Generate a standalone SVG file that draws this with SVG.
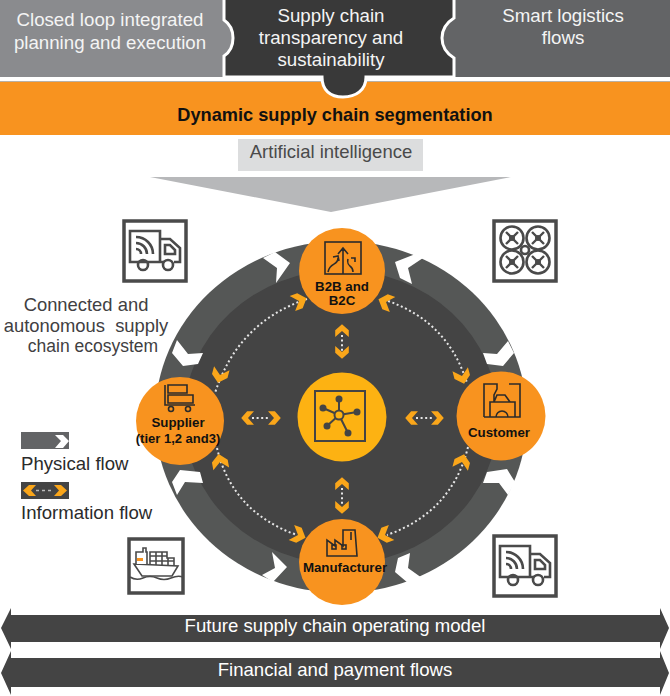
<svg xmlns="http://www.w3.org/2000/svg" xmlns:xlink="http://www.w3.org/1999/xlink" width="670" height="696" viewBox="0 0 670 696">
<style>
text{font-family:"Liberation Sans",Arial,sans-serif}
.w{fill:#fff;font-size:18.6px;text-anchor:middle}
.top{fill:#f4f4f4;font-size:18.7px;text-anchor:middle}
.g{fill:#414042;font-size:18.4px;text-anchor:middle}
.lg{fill:#2b2b2b;font-size:18.6px}
.n{fill:#111;font-size:13.3px;font-weight:bold;text-anchor:middle}
.dot{fill:none;stroke:#e6e6e6;stroke-width:2;stroke-dasharray:2 2.6}
.ch{fill:#FAA61A}
.wc{fill:#fff}
.ib{fill:#fff;stroke:#4a4a4a;stroke-width:3.5}
.il{fill:none;stroke:#4a4a4a;stroke-width:2.6}
.nl{fill:none;stroke:#2b2b2b;stroke-width:1.6}
</style>
<defs>
<path id="c" d="M-7,-8H1L8,0L1,8H-7L0,0Z"/>
<g id="truck">
<path class="il" d="M37,42H7V11H37V42M37,19H47L57,28V42H51M37,42H41"/>
<path class="il" d="M42,25H47L52,30V34H42Z"/>
<circle class="il" cx="20" cy="45" r="5"/>
<circle class="il" cx="45" cy="45" r="5"/>
<path class="il" d="M13,17A17,17 0 0 1 30,34M13,23A11,11 0 0 1 24,34M13,29A5,5 0 0 1 18,34"/>
</g>
</defs>
<rect width="670" height="696" fill="#fff"/>

<g id="block-planning">
<rect x="0" y="0" width="240" height="77" fill="#8a8b8e"/>
<text class="top" x="110" y="26">Closed loop integrated</text>
<text class="top" x="110" y="49">planning and execution</text>
</g>
<g id="block-logistics">
<rect x="435" y="0" width="235" height="77" fill="#636466"/>
<text class="top" x="563" y="22">Smart logistics</text>
<text class="top" x="563" y="44">flows</text>
</g>
<g id="band">
<rect x="0" y="77" width="670" height="5" fill="#fff"/>
<rect x="0" y="81" width="670" height="54" fill="#F8931F"/>
<rect x="0" y="81" width="670" height="1" fill="#b9b0a4"/>
<text x="335" y="121" font-size="18.2" font-weight="bold" fill="#111" text-anchor="middle">Dynamic supply chain segmentation</text>
</g>
<g id="block-transparency">
<path d="M224,-3V20C236,28 236,48 224,56V77H322C322,90 330,97 343,97C356,97 366,90 366,77H454V58C438,48 438,28 454,18V-3Z" fill="#393939" stroke="#fff" stroke-width="3"/>
<text class="top" x="331" y="22">Supply chain</text>
<text class="top" x="331" y="44">transparency and</text>
<text class="top" x="331" y="66">sustainability</text>
</g>
<g id="ai">
<rect x="238" y="139" width="185" height="32" fill="#dcddde"/>
<text x="331" y="158" font-size="18.5" fill="#4a4a4a" text-anchor="middle">Artificial intelligence</text>
<polygon points="150,177 511,177 331,212" fill="#b7b8ba"/>
</g>

<g id="ring">
<ellipse cx="341" cy="417" rx="186" ry="176" fill="#555756"/>
<ellipse cx="341" cy="417" rx="157" ry="147" fill="#444444"/>
<polygon class="wc" points="263,258 275,252 290,263 276,283 277,268"/>
<polygon class="wc" points="177,340 172,353 183,366 198,364 203,353 188,354"/>
<polygon class="wc" points="395,262 418,253 423,258 408,268 412,284 400,278"/>
<polygon class="wc" points="483,353 497,354 508,341 514,353 503,366 487,364"/>
<polygon class="wc" points="398,558 410,553 408,568 422,578 408,583 395,572"/>
<polygon class="wc" points="487,472 507,469 515,482 508,495 499,483 483,483"/>
<polygon class="wc" points="272,552 287,567 273,582 262,575 275,568"/>
<polygon class="wc" points="180,470 200,472 203,483 185,482 177,495 172,482"/>
</g>

<g id="connectors">
<path class="dot" d="M307,299Q238,322 215,393"/>
<path class="dot" d="M388,301Q448,322 467,383"/>
<path class="dot" d="M217,448Q232,512 297,535"/>
<path class="dot" d="M468,447Q452,512 387,535"/>
<path class="dot" d="M252,418H270"/>
<path class="dot" d="M416,418H434"/>
<path class="dot" d="M342,335V352"/>
<path class="dot" d="M342,488V505"/>
<use href="#c" class="ch" transform="translate(299,301) rotate(-20)"/>
<use href="#c" class="ch" transform="translate(220,375) rotate(105)"/>
<use href="#c" class="ch" transform="translate(386,302) rotate(200)"/>
<use href="#c" class="ch" transform="translate(462,376) rotate(75)"/>
<use href="#c" class="ch" transform="translate(220,462) rotate(-100)"/>
<use href="#c" class="ch" transform="translate(298,535) rotate(20)"/>
<use href="#c" class="ch" transform="translate(462,462) rotate(-75)"/>
<use href="#c" class="ch" transform="translate(385,535) rotate(160)"/>
<use href="#c" class="ch" transform="translate(248,418) rotate(180) scale(.85)"/>
<use href="#c" class="ch" transform="translate(274,418) scale(.85)"/>
<use href="#c" class="ch" transform="translate(412,418) rotate(180) scale(.85)"/>
<use href="#c" class="ch" transform="translate(437,418) scale(.85)"/>
<use href="#c" class="ch" transform="translate(342,331) rotate(-90) scale(.85)"/>
<use href="#c" class="ch" transform="translate(342,352) rotate(90) scale(.85)"/>
<use href="#c" class="ch" transform="translate(342,484) rotate(-90) scale(.85)"/>
<use href="#c" class="ch" transform="translate(342,507) rotate(90) scale(.85)"/>
</g>

<g id="node-b2b">
<circle cx="342" cy="271" r="43" fill="#F8931F"/>
<rect x="325" y="242" width="36" height="32" class="nl"/>
<path class="nl" d="M343,274V249M338,254L343,248L348,254M328,272C330,262 338,266 338,258M333,257L338,256L339,261M353,272C353,264 346,268 348,259M351,258H355V262"/>
<text class="n" x="342" y="291">B2B and</text>
<text class="n" x="342" y="305">B2C</text>
</g>
<g id="node-supplier">
<circle cx="180" cy="421" r="44" fill="#F8931F"/>
<path class="nl" d="M168,385H187V393H168ZM168,395H193V403H168ZM165,385V405H195"/>
<circle class="nl" cx="171" cy="409" r="2.5"/>
<circle class="nl" cx="188" cy="409" r="2.5"/>
<text class="n" x="178" y="427">Supplier</text>
<text class="n" x="178" y="443" style="font-size:13px">(tier 1,2 and3)</text>
</g>
<g id="node-customer">
<circle cx="501" cy="416" r="44.5" fill="#F8931F"/>
<path class="nl" d="M484,417V384H497V389L494,395V402M509,384H520V417H484M494,402L497,395H505L510,402M490,417V402H515V417M496,417A6,6 0 0 1 508,417"/>
<text class="n" x="499" y="437">Customer</text>
</g>
<g id="node-manufacturer">
<circle cx="342" cy="562" r="43" fill="#F8931F"/>
<path class="nl" d="M327,556V540L335,546V540L343,546V530H347L349,530H355L357,556ZM351,532V540"/>
<rect class="nl" x="332" y="545" width="4" height="4"/>
<rect class="nl" x="342" y="545" width="4" height="4"/>
<text class="n" x="345" y="572">Manufacturer</text>
</g>
<g id="node-hub">
<circle cx="342" cy="417" r="44.5" fill="#FDB212"/>
<rect x="315" y="391" width="50" height="50" fill="none" stroke="#444" stroke-width="2"/>
<path d="M339,415V399M339,415L323,408M339,415L357,412M339,415L327,426M339,415L348,433" stroke="#444" stroke-width="2"/>
<g fill="#444"><circle cx="339" cy="399" r="3.5"/><circle cx="323" cy="408" r="3.5"/><circle cx="357" cy="412" r="3.5"/><circle cx="327" cy="426" r="3.5"/><circle cx="348" cy="433" r="3.5"/></g>
<circle cx="339" cy="415" r="4.5" fill="#FDB212" stroke="#444" stroke-width="2"/>
</g>

<g id="icon-truck-top">
<rect class="ib" x="124" y="221" width="62" height="60"/>
<use href="#truck" transform="translate(123,220)"/>
</g>
<g id="icon-drone">
<rect class="ib" x="494" y="221" width="62" height="60"/>
<g class="il"><circle cx="512" cy="238" r="11.5"/><circle cx="538" cy="238" r="11.5"/><circle cx="512" cy="262" r="11.5"/><circle cx="538" cy="262" r="11.5"/><circle cx="525" cy="250" r="4"/></g>
<path d="M506,232L518,244M518,232L506,244M532,232L544,244M544,232L532,244M506,256L518,268M518,256L506,268M532,256L544,268M544,256L532,268" stroke="#4a4a4a" stroke-width="2.4"/>
<g fill="#4a4a4a"><circle cx="512" cy="238" r="3"/><circle cx="538" cy="238" r="3"/><circle cx="512" cy="262" r="3"/><circle cx="538" cy="262" r="3"/></g>
</g>
<g id="icon-ship">
<rect class="ib" x="129" y="539" width="54" height="54" stroke-width="3"/>
<path d="M134,564L178,566L172,576H142Z" fill="#fff" stroke="#4a4a4a" stroke-width="1.6"/>
<path d="M136,564V552H143V548H146V552H147V564" fill="#fff" stroke="#4a4a4a" stroke-width="1.6"/>
<rect x="137" y="558" width="6" height="3" fill="#F8931F"/>
<path d="M150,565V552H167V558H174V565M150,556H167M150,561H174M156,552V565M162,552V565M168,558V565" fill="none" stroke="#4a4a4a" stroke-width="1.6"/>
<path d="M130,577Q136,581 143,578T157,578T171,578T183,577" fill="none" stroke="#4a4a4a" stroke-width="1.6"/>
</g>
<g id="icon-truck-bottom">
<rect class="ib" x="494" y="536" width="62" height="60"/>
<use href="#truck" transform="translate(493,535)"/>
</g>

<g id="caption">
<text class="g" x="86" y="311">Connected and</text>
<text class="g" x="86" y="332" xml:space="preserve">autonomous  supply</text>
<text class="g" x="93" y="352" style="font-size:17.5px">chain ecosystem</text>
</g>
<g id="legend">
<rect x="21" y="432" width="48" height="17" fill="#636466"/>
<polygon class="wc" points="55,435 63,435 69,441 63,448 55,448 61,441"/>
<text class="lg" x="21" y="470">Physical flow</text>
<rect x="21" y="482" width="48" height="17" fill="#444"/>
<polygon class="ch" points="23,490.500 29,485 36,485 31,490.500 36,496 29,496"/>
<polygon class="ch" points="67,490.500 61,485 54,485 59,490.500 54,496 61,496"/>
<path d="M36,490.500H54" stroke="#bbb" stroke-width="1.500" stroke-dasharray="3 3"/>
<text class="lg" x="21" y="519">Information flow</text>
</g>
<g id="bar-operating">
<polygon points="1,628 11,608 11,615 660,615 660,608 669,628 660,649 660,642 11,642 11,649" fill="#444"/>
<text class="w" x="335" y="632">Future supply chain operating model</text>
</g>
<g id="bar-payment">
<polygon points="1,673 11,651 11,658 660,658 660,651 669,673 660,695 660,687 11,687 11,695" fill="#444"/>
<text class="w" x="335" y="676">Financial and payment flows</text>
</g>
</svg>
